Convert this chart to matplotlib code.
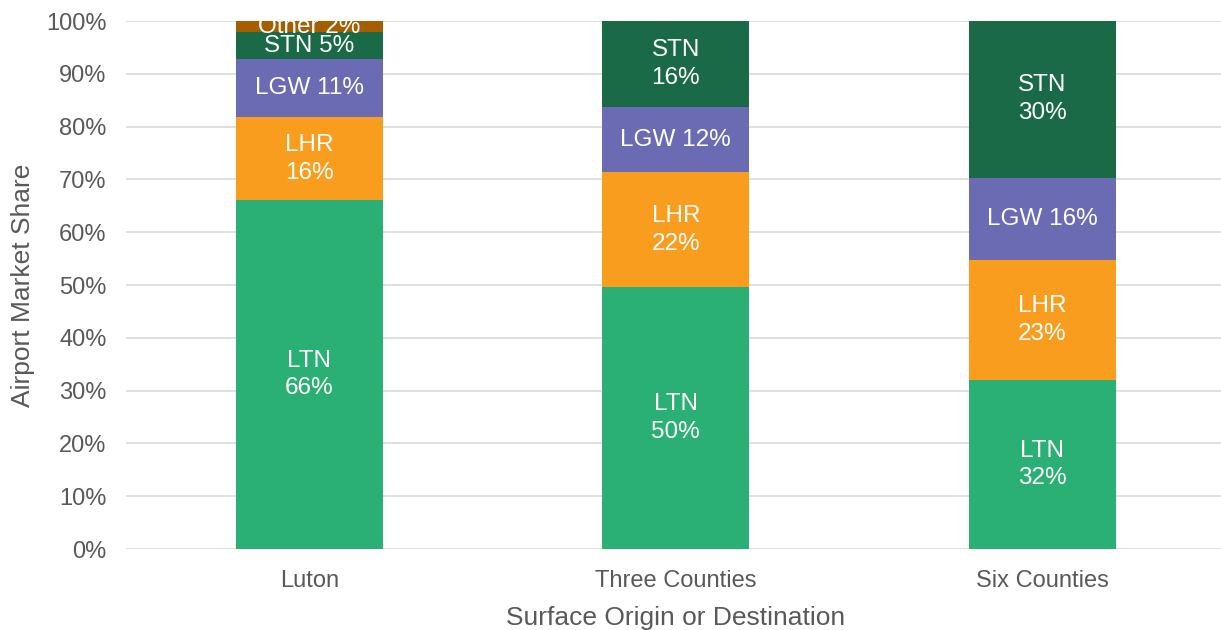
import numpy as np
import matplotlib.pyplot as plt

plt.rcParams['font.family'] = ['Liberation Sans', 'DejaVu Sans']

# data (percent of each origin/destination)
categories = ['Luton', 'Three Counties', 'Six Counties']
airports = ['LTN', 'LHR', 'LGW', 'STN', 'Other']
ltn = [66.1, 49.6, 32.0]
lhr = [15.7, 21.8, 22.7]
lgw = [11.0, 12.3, 15.6]
stn = [5.1, 16.3, 29.7]
other = [2.1, 0.0, 0.0]

colors = ['#2AB074', '#F99D1F', '#6B6BB3', '#1A6A47', '#A65F00']
# how each label is split (newline = two lines, space = one line)
seps = [
    ['\n', '\n', ' ', ' ', ' '],
    ['\n', '\n', ' ', '\n', ' '],
    ['\n', '\n', ' ', '\n', ' '],
]

series = [ltn, lhr, lgw, stn, other]
x = np.arange(len(categories))

fig = plt.figure(figsize=(12.21, 6.3), dpi=100)
ax = fig.add_axes([126 / 1221, 81 / 630, 1099.5 / 1221, 528 / 630])

bottom = np.zeros(len(categories))
for k, (name, vals) in enumerate(zip(airports, series)):
    vals = np.array(vals)
    ax.bar(x, vals, 0.4, bottom=bottom, color=colors[k], zorder=2)
    for i, v in enumerate(vals):
        if v <= 0:
            continue
        ax.text(x[i], bottom[i] + v / 2, f'{name}{seps[i][k]}{v:.0f}%',
                ha='center', va='center', color='white', fontsize=17.5,
                linespacing=1.35, zorder=3)
    bottom += vals

ax.set_xlim(-0.5, 2.5)
ax.set_ylim(0, 100)
ax.set_yticks(np.arange(0, 101, 10))
ax.set_yticklabels([f'{t}%' for t in range(0, 101, 10)])
ax.set_xticks(x)
ax.set_xticklabels(categories)
ax.grid(axis='y', color='#D9D9D9', linewidth=1.2, zorder=0)
for s in ax.spines.values():
    s.set_visible(False)
ax.tick_params(length=0, labelsize=17, colors='#595959', pad=14)
ax.tick_params(axis='x', pad=15)
ax.set_ylabel('Airport Market Share', fontsize=19, color='#595959', labelpad=8)
ax.set_xlabel('Surface Origin or Destination', fontsize=19, color='#595959', labelpad=10)

fig.savefig('out.png', dpi=100)
